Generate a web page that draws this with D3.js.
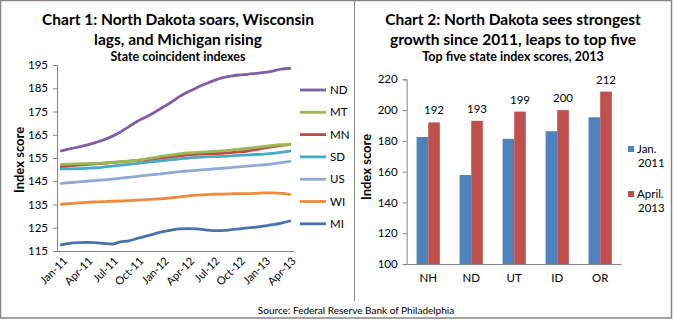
<!DOCTYPE html>
<html>
<head>
<meta charset="utf-8">
<script src="https://cdn.jsdelivr.net/npm/d3@7"></script>
<style>
  body { margin: 0; background: #fff; }
  svg text { font-family: Lato, "Open Sans", sans-serif; fill: #000; }
</style>
</head>
<body>
<div id="chart"></div>
<script>
// chart 1 data: monthly coincident indexes, Jan-11 .. Apr-13
const months = ["Jan-11","Feb-11","Mar-11","Apr-11","May-11","Jun-11","Jul-11","Aug-11","Sep-11","Oct-11","Nov-11","Dec-11",
  "Jan-12","Feb-12","Mar-12","Apr-12","May-12","Jun-12","Jul-12","Aug-12","Sep-12","Oct-12","Nov-12","Dec-12",
  "Jan-13","Feb-13","Mar-13","Apr-13"];
const tickMonths = ["Jan-11","Apr-11","Jul-11","Oct-11","Jan-12","Apr-12","Jul-12","Oct-12","Jan-13","Apr-13"];
const states = ["ND","MT","MN","SD","US","WI","MI"];
const ndVals = [158.1,158.9,159.7,160.5,161.6,162.8,164.3,166.2,168.5,170.8,172.6,174.6,176.8,179.0,181.5,183.5,185.2,186.8,188.3,189.5,190.2,190.7,191.0,191.4,191.8,192.4,193.2,193.5];
const mtVals = [152.3,152.4,152.5,152.6,152.7,152.9,153.1,153.4,153.7,154.0,154.6,155.2,155.8,156.3,156.8,157.2,157.4,157.6,157.9,158.1,158.4,158.8,159.2,159.6,160.0,160.4,160.7,160.9];
const mnVals = [151.3,151.6,151.9,152.2,152.5,152.7,153.0,153.3,153.7,154.0,154.3,154.7,155.1,155.5,155.9,156.3,156.6,156.8,156.9,157.0,157.3,157.6,158.0,158.6,159.3,159.9,160.4,160.9];
const sdVals = [150.3,150.3,150.4,150.6,150.8,151.1,151.5,151.9,152.3,152.7,153.1,153.5,153.9,154.3,154.6,155.0,155.3,155.5,155.6,155.7,155.9,156.1,156.3,156.5,156.7,157.0,157.5,158.0];
const usVals = [144.1,144.4,144.7,145.0,145.3,145.6,145.9,146.3,146.7,147.1,147.5,147.9,148.3,148.7,149.1,149.4,149.7,150.0,150.3,150.6,150.9,151.2,151.5,151.8,152.1,152.5,153.0,153.6];
const wiVals = [135.1,135.4,135.7,135.9,136.1,136.2,136.4,136.5,136.7,136.9,137.1,137.3,137.5,137.9,138.3,138.7,139.0,139.2,139.4,139.5,139.6,139.7,139.7,139.8,140.0,140.0,139.8,139.4];
const miVals = [117.6,118.3,118.6,118.7,118.6,118.3,118.0,118.9,119.4,120.4,121.4,122.4,123.3,124.0,124.5,124.6,124.5,124.1,123.8,123.8,124.1,124.5,124.9,125.3,125.8,126.3,127.0,127.9];
const lineTicks = [115,125,135,145,155,165,175,185,195];

// chart 2 data: top five states
const barStates = ["NH","ND","UT","ID","OR"];
const jan2011 = [182.5,157.8,181.3,186.3,195.3];
const apr2013 = [192,193,199,200,212];
const barTicks = [100,120,140,160,180,200,220];

const seriesVals = [ndVals, mtVals, mnVals, sdVals, usVals, wiVals, miVals];
const lineColors = ["#7D60A0","#98B954","#BE4B48","#46AAC5","#93A9D2","#EE8A3C","#4674AA"];
const barColors = ["#4F81BD","#C0504D"];

const W = 673, H = 322;
const svg = d3.select("#chart").append("svg")
  .attr("width", W).attr("height", H);

// outer frame and divider
svg.append("rect")
  .attr("x", 0.5).attr("y", 0.5)
  .attr("width", 671).attr("height", 317.5)
  .attr("fill", "none").attr("stroke", "#858585").attr("stroke-width", 1.5);
svg.append("line")
  .attr("x1", 354.5).attr("x2", 354.5).attr("y1", 0).attr("y2", 301)
  .attr("stroke", "#858585").attr("stroke-width", 1);

function title(cx, lines, sub) {
  lines.forEach((t, i) => {
    svg.append("text")
      .attr("x", cx).attr("y", 25 + i * 20)
      .attr("text-anchor", "middle")
      .style("font-size", "15.5px").style("font-weight", "bold")
      .text(t);
  });
  svg.append("text")
    .attr("x", cx).attr("y", 61)
    .attr("text-anchor", "middle")
    .style("font-size", "12.5px").style("font-weight", "bold")
    .text(sub);
}

// ---------- Chart 1 ----------
title(178, ["Chart 1: North Dakota soars, Wisconsin", "lags, and Michigan rising"], "State coincident indexes");

const x1 = d3.scalePoint().domain(months).range([57, 294]).padding(0.5);
const y1 = d3.scaleLinear().domain([115, 195]).range([251, 65]);

const g1 = svg.append("g");
g1.append("g")
  .attr("transform", "translate(57,0)")
  .call(d3.axisLeft(y1).tickValues(lineTicks).tickSize(4).tickPadding(5))
  .call(g => g.select(".domain").attr("stroke", "#868686"))
  .call(g => g.selectAll(".tick line").attr("stroke", "#868686"))
  .call(g => g.selectAll(".tick text").style("font-size", "11.5px").style("font-family", "Lato, sans-serif"));

g1.append("line")
  .attr("x1", 57).attr("x2", 294).attr("y1", 251.5).attr("y2", 251.5)
  .attr("stroke", "#868686");

g1.selectAll(".xlab")
  .data(tickMonths)
  .enter().append("text")
  .attr("class", "xlab")
  .attr("transform", d => `translate(${x1(d) + 4},259) rotate(-45)`)
  .attr("text-anchor", "end")
  .attr("dy", "0.35em")
  .style("font-size", "11px")
  .text(d => d);

svg.append("text")
  .attr("transform", "translate(24,160) rotate(-90)")
  .attr("text-anchor", "middle")
  .style("font-size", "13px").style("font-weight", "bold")
  .text("Index score");

const line = d3.line()
  .x((d, i) => x1(months[i]))
  .y(d => y1(d))
  .curve(d3.curveMonotoneX);

// draw bottom series first so ND/MT/MN sit on top like the original
[6,5,4,3,2,1,0].forEach(k => {
  g1.append("path")
    .datum(seriesVals[k])
    .attr("d", line)
    .attr("fill", "none")
    .attr("stroke", lineColors[k])
    .attr("stroke-width", 2.8)
    .attr("stroke-linecap", "round");
});

const leg1 = svg.append("g");
states.forEach((s, i) => {
  const yy = 90 + i * 22.3;
  leg1.append("line")
    .attr("x1", 300).attr("x2", 326).attr("y1", yy).attr("y2", yy)
    .attr("stroke", lineColors[i]).attr("stroke-width", 2.8);
  leg1.append("text")
    .attr("x", 330).attr("y", yy).attr("dy", "0.35em")
    .style("font-size", "11.5px")
    .text(s);
});

// ---------- Chart 2 ----------
title(513, ["Chart 2: North Dakota sees strongest", "growth since 2011, leaps to top five"], "Top five state index scores, 2013");

const x2 = d3.scaleBand().domain(barStates).range([406.7, 621.7]);
const y2 = d3.scaleLinear().domain([100, 220]).range([264, 79.3]);
const bw = x2.bandwidth() * 0.27;

const g2 = svg.append("g");
g2.append("g")
  .attr("transform", "translate(406.7,0)")
  .call(d3.axisLeft(y2).tickValues(barTicks).tickSize(4).tickPadding(5))
  .call(g => g.select(".domain").attr("stroke", "#868686"))
  .call(g => g.selectAll(".tick line").attr("stroke", "#868686"))
  .call(g => g.selectAll(".tick text").style("font-size", "11.5px").style("font-family", "Lato, sans-serif"));

const bars = barStates.map((s, i) => ({ s, a: jan2011[i], b: apr2013[i] }));

g2.selectAll(".barA")
  .data(bars)
  .enter().append("rect")
  .attr("class", "barA")
  .attr("x", d => x2(d.s) + x2.bandwidth() / 2 - bw)
  .attr("y", d => y2(d.a))
  .attr("width", bw)
  .attr("height", d => y2(100) - y2(d.a))
  .attr("fill", barColors[0]);

g2.selectAll(".barB")
  .data(bars)
  .enter().append("rect")
  .attr("class", "barB")
  .attr("x", d => x2(d.s) + x2.bandwidth() / 2)
  .attr("y", d => y2(d.b))
  .attr("width", bw)
  .attr("height", d => y2(100) - y2(d.b))
  .attr("fill", barColors[1]);

g2.selectAll(".vlab")
  .data(bars)
  .enter().append("text")
  .attr("class", "vlab")
  .attr("x", d => x2(d.s) + x2.bandwidth() / 2 + bw / 2)
  .attr("y", d => y2(d.b) - 8)
  .attr("text-anchor", "middle")
  .style("font-size", "11.5px")
  .text(d => d.b);

g2.append("line")
  .attr("x1", 406.7).attr("x2", 621.7).attr("y1", 264.5).attr("y2", 264.5)
  .attr("stroke", "#868686");

g2.selectAll(".xlab2")
  .data(barStates)
  .enter().append("text")
  .attr("class", "xlab2")
  .attr("x", d => x2(d) + x2.bandwidth() / 2)
  .attr("y", 278).attr("dy", "0.35em")
  .attr("text-anchor", "middle")
  .style("font-size", "11.5px")
  .text(d => d);

svg.append("text")
  .attr("transform", "translate(371,167) rotate(-90)")
  .attr("text-anchor", "middle")
  .style("font-size", "13px").style("font-weight", "bold")
  .text("Index score");

const legItems = [
  { c: barColors[0], l1: "Jan.", l2: "2011", y: 149 },
  { c: barColors[1], l1: "April.", l2: "2013", y: 194 }
];
legItems.forEach(d => {
  svg.append("rect")
    .attr("x", 628).attr("y", d.y - 3).attr("width", 6).attr("height", 6)
    .attr("fill", d.c);
  svg.append("text").attr("x", 637).attr("y", d.y).attr("dy", "0.35em")
    .style("font-size", "11.5px").text(d.l1);
  svg.append("text").attr("x", 638).attr("y", d.y + 14).attr("dy", "0.35em")
    .style("font-size", "11.5px").text(d.l2);
});

// source line
svg.append("text")
  .attr("x", 356).attr("y", 314)
  .attr("text-anchor", "middle")
  .style("font-size", "10px")
  .text("Source: Federal Reserve Bank of Philadelphia");
</script>
</body>
</html>
